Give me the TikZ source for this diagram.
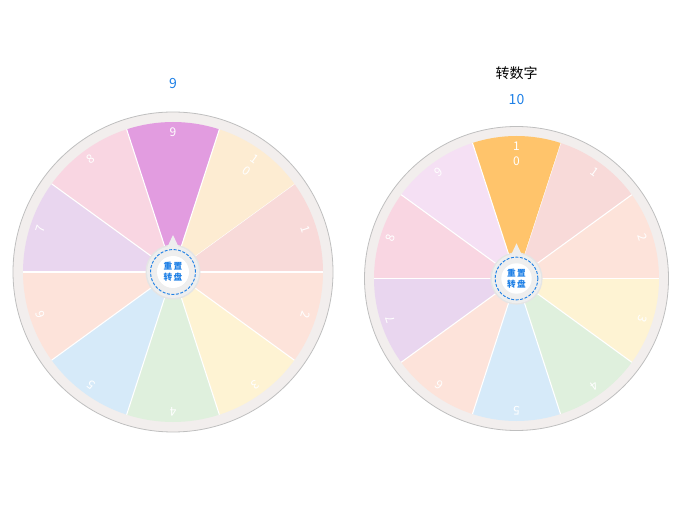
\documentclass[tikz,border=0pt]{standalone}
\usepackage{fontspec}
\setmainfont{Noto Sans CJK SC}
\definecolor{ringgray}{HTML}{F2EEED}
\definecolor{hubgray}{HTML}{EEEEEE}
\definecolor{numblue}{HTML}{1E80E6}
\definecolor{c1}{HTML}{F8DAD9}
\definecolor{c2}{HTML}{FDE3DA}
\definecolor{c3}{HTML}{FEF3D3}
\definecolor{c4}{HTML}{DFF0DD}
\definecolor{c5}{HTML}{D6EAF9}
\definecolor{c6}{HTML}{FDE3DA}
\definecolor{c7}{HTML}{E9D6EF}
\definecolor{c8}{HTML}{F9D6E2}
\definecolor{c9}{HTML}{F5E0F4}
\definecolor{c10}{HTML}{FDECD2}
\definecolor{c9hi}{HTML}{E29CE0}
\definecolor{c10hi}{HTML}{FFC46B}
\tikzset{
  ring/.style={draw=black!25, line width=0.6pt, fill=ringgray},
  numlabel/.style={text=white, font=\fontsize{9}{11}\selectfont, align=center, inner sep=0pt, anchor=north},
  hubtext/.style={text=numblue, font=\fontsize{6.5}{8}\selectfont\bfseries, align=center, inner sep=0pt},
  title/.style={text=numblue, font=\fontsize{10.5}{12}\selectfont}
}
\begin{document}
\begin{tikzpicture}[x=0.75pt,y=0.75pt]
\useasboundingbox (0,0) rectangle (684,521);
% left wheel
\node[title] (lefttitle) at (173,437) {9};
\begin{scope}[shift={(173,249)}]
    \draw[ring] (0,0) circle (160);
    \foreach \n/\c/\t in {1/c1/1,2/c2/2,3/c3/3,4/c4/4,5/c5/5,6/c6/6,7/c7/7,8/c8/8,9/c9hi/9,10/c10/{1\\0}} {
        \pgfmathsetmacro{\a}{414-36*\n}
        \fill[\c] (0,0) -- (\a-18:150) arc[start angle=\a-18, end angle=\a+18, radius=150] -- cycle;
        \draw[white, line width=0.8pt] (0,0) -- (\a+18:150);
        \node[numlabel, rotate=\a-90] (a\n) at (\a:144) {\t};
    }
    \fill[black!10] (0,0) circle (27.5);
    \fill[hubgray] (-8,20) -- (0,37) -- (8,20) -- cycle;
    \fill[hubgray] (0,0) circle (26);
    \fill[white] (0,0) circle (16);
    \draw[numblue, line width=0.7pt, dash pattern=on 2.2pt off 1.2pt] (0,0) circle (22.5);
    \node[hubtext] (abutton) at (0,0) {重\,置\\转\,盘};
\end{scope}
% right wheel
\node[text=black, font=\fontsize{10.5}{12}\selectfont] (righthead) at (516.5,448) {转数字};
\node[title] (righttitle) at (516.5,421) {10};
\begin{scope}[shift={(516.5,242.5)}, scale=0.95]
    \draw[ring] (0,0) circle (160);
    \foreach \n/\c/\t in {1/c1/1,2/c2/2,3/c3/3,4/c4/4,5/c5/5,6/c6/6,7/c7/7,8/c8/8,9/c9/9,10/c10hi/{1\\0}} {
        \pgfmathsetmacro{\a}{450-36*\n}
        \fill[\c] (0,0) -- (\a-18:150) arc[start angle=\a-18, end angle=\a+18, radius=150] -- cycle;
        \draw[white, line width=0.8pt] (0,0) -- (\a+18:150);
        \node[numlabel, rotate=\a-90] (b\n) at (\a:144) {\t};
    }
    \fill[black!10] (0,0) circle (27.5);
    \fill[hubgray] (-8,20) -- (0,37) -- (8,20) -- cycle;
    \fill[hubgray] (0,0) circle (26);
    \fill[white] (0,0) circle (16);
    \draw[numblue, line width=0.7pt, dash pattern=on 2.2pt off 1.2pt] (0,0) circle (22.5);
    \node[hubtext] (bbutton) at (0,0) {重\,置\\转\,盘};
\end{scope}
\end{tikzpicture}
\end{document}
